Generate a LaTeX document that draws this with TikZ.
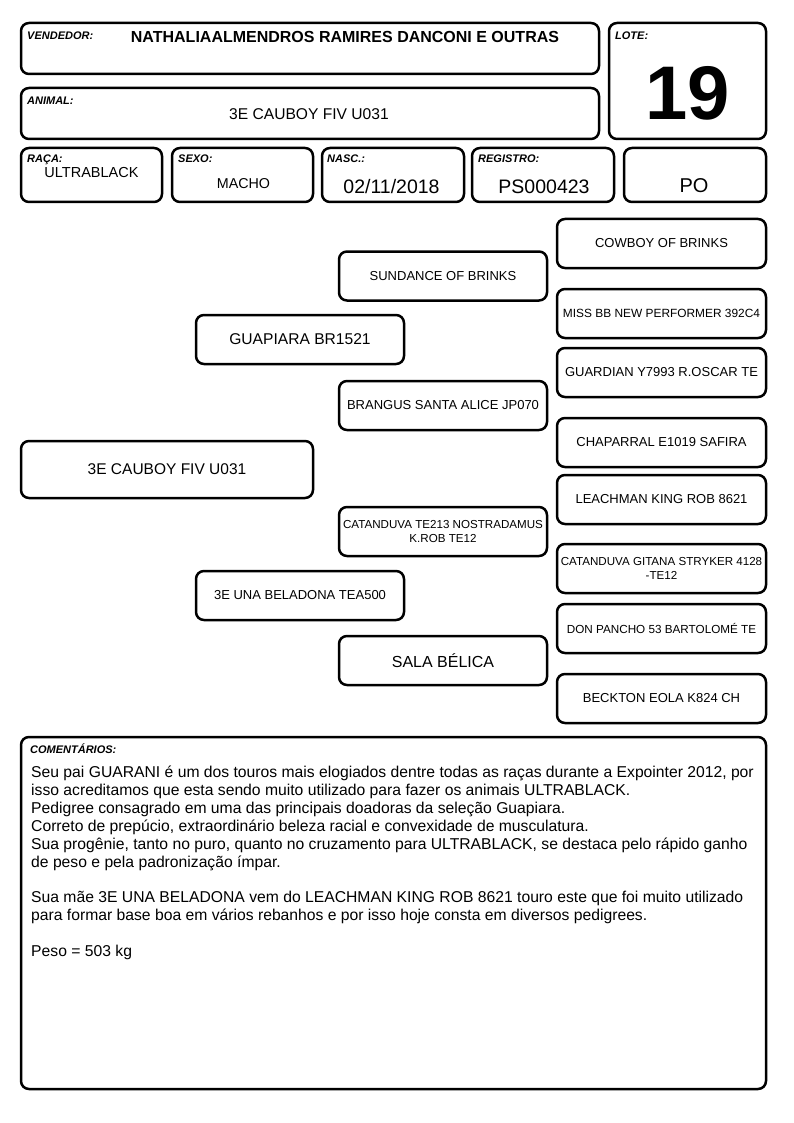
\documentclass[tikz,border=0pt]{standalone}
\usepackage{fontspec}
\setmainfont{Liberation Sans}
\newcommand{\setfs}[1]{\fontsize{#1}{#1}\selectfont}
\tikzset{
  card/.style={draw, line width=2.5pt, rounded corners=8pt, inner sep=0pt, align=center},
  pedbox/.style={card, minimum width=208pt, minimum height=49pt, font=\setfs{13}},
  tag/.style={anchor=north west, inner sep=0pt, font=\setfs{11}\bfseries\itshape},
}
\begin{document}
\begin{tikzpicture}[x=1pt,y=-1pt]
\useasboundingbox (0,0) rectangle (794,1123);

% header
\node[card, minimum width=578pt, minimum height=51pt] (vendor) at (310,48.5) {};
\node[tag] (vendortag) at (27,31.5) {VENDEDOR:};
\node[font=\setfs{16}\bfseries] (vendorname) at (345,37) {NATHALIAALMENDROS RAMIRES DANCONI E OUTRAS};

\node[card, minimum width=578pt, minimum height=51pt] (animal) at (310,113.5) {};
\node[tag] (animaltag) at (27,96.5) {ANIMAL:};
\node[font=\setfs{15.6}] (animalname) at (309,114) {3E CAUBOY FIV U031};

\node[card, minimum width=157pt, minimum height=116pt] (lote) at (687.5,81) {};
\node[tag] (lotetag) at (615,31.5) {LOTE:};
\node[font=\setfs{76}\bfseries] (lotenum) at (687.5,93) {19};

% data row
\node[card, minimum width=141pt, minimum height=54pt] (raca) at (91.5,175) {};
\node[card, minimum width=141pt, minimum height=54pt] (sexo) at (242.5,175) {};
\node[card, minimum width=142pt, minimum height=54pt] (nasc) at (393,175) {};
\node[card, minimum width=142pt, minimum height=54pt] (registro) at (543,175) {};
\node[card, minimum width=142pt, minimum height=54pt] (po) at (695,175) {};

\node[tag] (racatag) at (27,154.5) {RAÇA:};
\node[tag] (sexotag) at (178,154.5) {SEXO:};
\node[tag] (nasctag) at (327,154.5) {NASC.:};
\node[tag] (registrotag) at (478,154.5) {REGISTRO:};

\node[font=\setfs{14.5}] (racaval) at (91.5,172.5) {ULTRABLACK};
\node[font=\setfs{14.3}] (sexoval) at (243.5,183.5) {MACHO};
\node[font=\setfs{19.5}] (nascval) at (391.5,187) {02/11/2018};
\node[font=\setfs{19.5}] (registroval) at (544,187) {PS000423};
\node[font=\setfs{20}] (poval) at (694,186) {PO};

% pedigree
\node[card, minimum width=292pt, minimum height=57pt, font=\setfs{15.5}] (ped) at (167,469.5) {3E CAUBOY FIV U031};

\node[pedbox, font=\setfs{15.6}] (sire) at (300,339.5) {GUAPIARA BR1521};
\node[pedbox] (dam) at (300,595.5) {3E UNA BELADONA TEA500};

\node[pedbox] (ss) at (443,276) {SUNDANCE OF BRINKS};
\node[pedbox] (sd) at (443,405.5) {BRANGUS SANTA ALICE JP070};
\node[pedbox, font=\fontsize{11.6}{14.5}\selectfont] (ds) at (443,531.5) {CATANDUVA TE213 NOSTRADAMUS\\K.ROB TE12};
\node[pedbox, font=\setfs{16}] (dd) at (443,660.5) {SALA BÉLICA};

\node[pedbox, minimum width=209pt] (sss) at (661.5,243.5) {COWBOY OF BRINKS};
\node[pedbox, minimum width=209pt, font=\setfs{11.9}] (ssd) at (661.5,313.5) {MISS BB NEW PERFORMER 392C4};
\node[pedbox, minimum width=209pt] (sds) at (661.5,372.5) {GUARDIAN Y7993 R.OSCAR TE};
\node[pedbox, minimum width=209pt] (sdd) at (661.5,442.5) {CHAPARRAL E1019 SAFIRA};
\node[pedbox, minimum width=209pt] (dss) at (661.5,499.5) {LEACHMAN KING ROB 8621};
\node[pedbox, minimum width=209pt, font=\fontsize{11.6}{14.5}\selectfont] (dsd) at (661.5,568.5) {CATANDUVA GITANA STRYKER 4128\\-TE12};
\node[pedbox, minimum width=209pt, font=\setfs{11.7}] (dds) at (661.5,628.5) {DON PANCHO 53 BARTOLOMÉ TE};
\node[pedbox, minimum width=209pt] (ddd) at (661.5,698.5) {BECKTON EOLA K824 CH};

% comments
\node[card, minimum width=745pt, minimum height=352pt] (notes) at (393.5,913) {};
\node[tag] (notestag) at (30,743.5) {COMENTÁRIOS:};
\foreach \k/\txt in {0/{Seu pai GUARANI é um dos touros mais elogiados dentre todas as raças durante a Expointer 2012, por},
    1/{isso acreditamos que esta sendo muito utilizado para fazer os animais ULTRABLACK.},
    2/{Pedigree consagrado em uma das principais doadoras da seleção Guapiara.},
    3/{Correto de prepúcio, extraordinário beleza racial e convexidade de musculatura.},
    4/{Sua progênie, tanto no puro, quanto no cruzamento para ULTRABLACK, se destaca pelo rápido ganho},
    5/{de peso e pela padronização ímpar.},
    7/{Sua mãe 3E UNA BELADONA vem do LEACHMAN KING ROB 8621 touro este que foi muito utilizado},
    8/{para formar base boa em vários rebanhos e por isso hoje consta em diversos pedigrees.},
    10/{Peso = 503 kg}}
  \node[anchor=base west, inner sep=0pt, font=\setfs{15.7}] (line\k) at (31,777.5+17.9*\k) {\txt};
\end{tikzpicture}
\end{document}
